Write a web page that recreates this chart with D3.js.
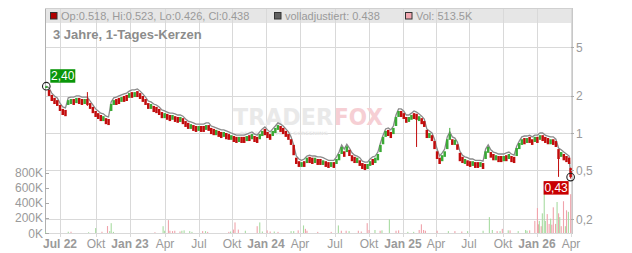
<!DOCTYPE html>
<html>
<head>
<meta charset="utf-8">
<script src="https://cdn.jsdelivr.net/npm/d3@7"></script>
<style>
    body { margin: 0; background: #fff; }
    svg { display: block; font-family: "Liberation Sans", Arial, sans-serif; }
</style>
</head>
<body>
<div id="chart"></div>
<script>

/* * * * * * * * * * * * * *
*        chart data        *
* * * * * * * * * * * * * */

// weekly candles, first week 2022-05-27, last entry = 2026-03-31
const firstWeek = new Date(2022, 4, 27);
const lastDay = new Date(2026, 2, 31);

const opens = [2.32,2.24,2.04,1.93,1.85,1.69,1.57,1.54,1.69,1.72,1.89,1.75,1.93,1.89,1.72,1.89,1.75,1.63,1.51,1.45,
    1.40,1.25,1.32,1.30,1.51,1.69,1.89,1.93,1.79,2.00,2.04,1.93,2.15,1.96,2.19,2.11,2.00,1.89,1.75,1.57,
    1.66,1.63,1.57,1.48,1.32,1.43,1.40,1.28,1.37,1.35,1.23,1.32,1.25,1.21,1.08,1.16,1.14,1.04,1.14,1.14,
    1.06,1.16,1.10,1.08,0.96,1.04,1.02,0.93,1.00,0.98,0.88,0.945,0.93,0.845,0.93,0.93,0.86,0.96,0.89,0.945,
    0.93,0.89,0.945,1.08,1.02,0.98,0.945,1.00,1.06,1.14,1.10,1.04,0.98,0.89,0.80,0.63,0.59,0.53,0.59,0.57,
    0.64,0.63,0.57,0.615,0.615,0.55,0.59,0.58,0.53,0.58,0.56,0.60,0.675,0.71,0.70,0.73,0.66,0.64,0.57,0.60,
    0.57,0.56,0.51,0.54,0.615,0.57,0.60,0.70,0.81,0.93,1.06,1.02,0.98,1.14,1.35,1.51,1.45,1.35,1.23,1.28,
    1.45,1.43,1.25,1.32,1.25,1.06,0.91,0.96,0.86,0.71,0.63,0.59,0.64,0.74,0.88,0.89,0.80,0.81,0.69,0.64,
    0.56,0.60,0.59,0.54,0.58,0.58,0.53,0.57,0.615,0.69,0.70,0.675,0.60,0.65,0.65,0.59,0.66,0.615,0.65,0.64,
    0.65,0.74,0.80,0.91,0.83,0.93,0.89,0.845,0.93,0.88,0.96,0.93,0.91,0.81,0.89,0.86,0.74,0.64,0.675,0.65,
    0.63,0.518];

const closes = [2.40,2.00,1.82,1.72,1.66,1.51,1.40,1.37,1.85,1.89,1.69,1.93,1.72,1.69,1.89,1.69,1.57,1.45,1.35,1.30,
    1.25,1.37,1.18,1.16,1.72,1.85,1.69,1.72,1.96,1.79,1.82,2.11,1.93,2.15,1.96,1.89,1.79,1.69,1.57,1.72,
    1.48,1.45,1.40,1.32,1.45,1.28,1.25,1.40,1.23,1.21,1.35,1.18,1.12,1.08,1.18,1.04,1.02,1.14,1.02,1.02,
    1.16,1.04,0.98,0.96,1.06,0.93,0.91,1.02,0.89,0.88,0.96,0.845,0.83,0.93,0.83,0.83,0.945,0.86,0.98,0.845,
    0.83,0.98,1.04,0.96,0.91,0.88,1.04,1.10,1.16,1.02,0.98,0.93,0.88,0.80,0.66,0.56,0.53,0.58,0.53,0.63,
    0.57,0.56,0.63,0.55,0.55,0.60,0.53,0.52,0.58,0.52,0.615,0.675,0.77,0.64,0.78,0.65,0.59,0.57,0.63,0.54,
    0.51,0.50,0.56,0.59,0.55,0.63,0.675,0.80,0.93,1.04,0.945,0.91,1.10,1.35,1.51,1.35,1.30,1.21,1.35,1.40,
    1.30,1.28,1.37,1.18,1.12,0.91,1.00,0.86,0.74,0.615,0.56,0.66,0.71,0.89,0.98,0.80,0.88,0.73,0.59,0.57,
    0.615,0.54,0.53,0.59,0.52,0.52,0.58,0.51,0.71,0.77,0.63,0.60,0.66,0.58,0.58,0.65,0.59,0.675,0.58,0.57,
    0.755,0.83,0.89,0.81,0.91,0.83,0.80,0.93,0.83,0.96,0.86,0.83,0.81,0.89,0.80,0.77,0.615,0.70,0.60,0.58,
    0.56,0.438];

// "volladjustiert" line
const adjusted = [2.41,2.32,2.11,2.00,1.93,1.75,1.63,1.60,1.93,1.96,1.96,2.00,2.00,1.96,1.96,1.96,1.82,1.69,1.57,1.51,
    1.45,1.43,1.37,1.35,1.79,1.93,1.96,2.00,2.04,2.08,2.11,2.19,2.24,2.24,2.28,2.19,2.08,1.96,1.82,1.79,
    1.72,1.69,1.63,1.54,1.51,1.48,1.45,1.45,1.43,1.40,1.40,1.37,1.30,1.25,1.23,1.21,1.18,1.18,1.18,1.18,
    1.21,1.21,1.14,1.12,1.10,1.08,1.06,1.06,1.04,1.02,1.00,0.98,0.96,0.96,0.96,0.96,0.98,1.00,1.02,0.98,
    0.96,1.02,1.08,1.12,1.06,1.02,1.08,1.14,1.21,1.18,1.14,1.08,1.02,0.93,0.80,0.65,0.615,0.60,0.615,0.65,
    0.66,0.65,0.65,0.64,0.64,0.63,0.615,0.60,0.60,0.60,0.64,0.70,0.80,0.74,0.81,0.755,0.69,0.66,0.65,0.63,
    0.59,0.58,0.58,0.615,0.64,0.65,0.70,0.83,0.96,1.08,1.10,1.06,1.14,1.40,1.57,1.57,1.51,1.40,1.40,1.45,
    1.51,1.48,1.43,1.37,1.30,1.08,1.04,1.00,0.89,0.74,0.65,0.69,0.74,0.93,1.02,0.93,0.91,0.845,0.71,0.66,
    0.64,0.63,0.615,0.615,0.60,0.60,0.60,0.59,0.74,0.80,0.73,0.70,0.69,0.675,0.675,0.675,0.69,0.70,0.675,0.66,
    0.78,0.86,0.93,0.945,0.945,0.96,0.93,0.96,0.96,1.00,1.00,0.96,0.945,0.93,0.93,0.89,0.755,0.73,0.70,0.675,
    0.65,0.438];

// long wicks (week index into the arrays above)
const spikeWeeks = [15, 141, 154, 196, 201];
const spikeHighs = [2.15, 1.43, 1.10, 0.675, 0.523];
const spikeLows = [1.66, 0.77, 0.98, 0.44, 0.426];

// daily volume (thousands), 1 = up day, 0 = down day
const volDates = ["2022-05-25","2022-07-22","2022-07-29","2022-09-12","2022-09-30","2022-10-17","2022-11-01","2022-11-07",
    "2022-11-11","2022-11-17","2023-03-06","2023-03-27","2023-03-31","2023-04-10","2023-04-14","2023-04-21","2023-04-27",
    "2023-05-11","2023-05-16","2023-05-22","2023-06-06","2023-06-12","2023-07-11","2023-07-19","2023-07-25","2023-09-22",
    "2023-09-27","2023-10-05","2023-10-09","2023-10-18","2023-11-06","2023-12-08","2023-12-15","2023-12-22","2024-01-04",
    "2024-01-12","2024-01-23","2024-02-02","2024-03-08","2024-03-15","2024-03-27","2024-04-10","2024-04-15","2024-04-19",
    "2024-05-17","2024-06-21","2024-07-10","2024-07-18","2024-07-31","2024-08-08","2024-09-02","2024-09-10","2024-09-26",
    "2024-10-01","2024-10-17","2024-10-31","2024-11-05","2024-11-25","2024-12-13","2024-12-20","2025-01-14","2025-01-30",
    "2025-02-14","2025-02-20","2025-02-26","2025-03-03","2025-04-04","2025-05-05","2025-05-23","2025-06-11","2025-06-27",
    "2025-08-08","2025-08-25","2025-09-02","2025-09-15","2025-09-23","2025-09-29","2025-10-15","2025-10-20","2025-11-11",
    "2025-12-01","2025-12-05","2025-12-12","2025-12-26","2026-01-02","2026-01-05","2026-01-07","2026-01-12","2026-01-15",
    "2026-01-20","2026-01-23","2026-01-28","2026-02-02","2026-02-06","2026-02-09","2026-02-13","2026-02-19","2026-02-23",
    "2026-02-27","2026-03-02","2026-03-06","2026-03-12","2026-03-17","2026-03-20","2026-03-25","2026-03-31"];
const volK = [15,17,17,10,65,17,92,25,130,15,10,90,30,170,30,25,30,20,30,35,25,15,25,25,15,15,20,45,140,45,30,90,140,20,35,
    20,20,15,25,25,35,100,55,30,15,15,100,30,30,25,30,20,130,40,40,30,35,180,30,35,15,15,40,115,40,30,30,25,25,20,25,
    30,210,40,25,25,55,35,35,25,40,30,35,160,330,115,160,90,260,670,160,250,120,190,110,340,120,410,260,210,90,420,
    90,300,280,513.5];
const volUp = [1,1,0,1,1,0,0,1,1,1,0,1,1,0,0,0,0,0,1,1,1,1,0,1,0,0,1,0,0,0,1,0,1,1,0,0,1,0,1,1,0,1,0,0,0,0,1,0,0,1,
    0,0,0,0,1,0,1,1,0,0,1,1,0,0,0,0,0,1,0,0,1,1,1,1,0,1,0,1,0,1,1,1,0,0,0,0,1,0,1,1,1,0,0,1,0,0,0,1,0,1,0,0,1,0,1,0];

// axis labels
const quarterLabels = ["Jul 22","Okt","Jan 23","Apr","Jul","Okt","Jan 24","Apr","Jul","Okt","Jan 25","Apr","Jul","Okt","Jan 26","Apr"];
const priceTicks = [5, 2, 1, 0.5, 0.2];
const volTicks = [0, 200, 400, 600, 800];


/* * * * * * * * * * * * * *
*         layout           *
* * * * * * * * * * * * * */

const width = 632, height = 253;
const plot = {left: 45, right: 572, top: 8, bottom: 233};
// measured gridline positions of the quarter starts
const quarterPx = [60, 96, 130, 165, 199, 232, 266, 300, 335, 369, 403, 436, 469, 503, 537, 571];

const red = "#c20c0c", green = "#3aa935";
const volRed = "#f0a3ab", volGreen = "#a8dca2";
const gridColor = "#d9d9d9", labelColor = "#9a9a9a";

const svg = d3.select("#chart").append("svg")
    .attr("width", width)
    .attr("height", height);

const quarterDates = d3.timeMonth.range(new Date(2022, 6, 1), new Date(2026, 3, 2), 3);

// scales
const x = d3.scaleTime().domain(quarterDates).range(quarterPx);
const y = d3.scaleLog().domain([0.2, 5]).range([219, 47]);
const yVol = d3.scaleLinear().domain([0, 800]).range([plot.bottom, 172.5]);

const comma = d3.formatLocale({decimal: ",", thousands: ".", grouping: [3], currency: ["", "€"]});

// legend background (grid shows through)
svg.append("rect")
    .attr("x", plot.left).attr("y", plot.top)
    .attr("width", plot.right - plot.left).attr("height", 15)
    .attr("fill", "#e6e6e6");

// vertical grid
svg.append("g").selectAll("line")
    .data(quarterDates)
    .join("line")
    .attr("x1", d => Math.round(x(d)) + 0.5).attr("x2", d => Math.round(x(d)) + 0.5)
    .attr("y1", plot.top).attr("y2", plot.bottom + 4)
    .attr("stroke", gridColor);

// horizontal grid at price ticks + bottom line
svg.append("g").selectAll("line")
    .data(priceTicks)
    .join("line")
    .attr("x1", plot.left).attr("x2", plot.right)
    .attr("y1", d => Math.round(y(d)) + 0.5).attr("y2", d => Math.round(y(d)) + 0.5)
    .attr("stroke", gridColor);

svg.append("line")
    .attr("x1", plot.left).attr("x2", plot.right)
    .attr("y1", plot.bottom + 0.5).attr("y2", plot.bottom + 0.5)
    .attr("stroke", gridColor);

// frame
svg.append("line")
    .attr("x1", plot.left + 0.5).attr("x2", plot.left + 0.5)
    .attr("y1", plot.top).attr("y2", plot.bottom + 1)
    .attr("stroke", "#b0b0b0");
svg.append("line")
    .attr("x1", plot.right + 0.5).attr("x2", plot.right + 0.5)
    .attr("y1", plot.top).attr("y2", plot.bottom + 1)
    .attr("stroke", "#c8c8c8");
svg.append("line")
    .attr("x1", plot.left).attr("x2", plot.right)
    .attr("y1", plot.top + 0.5).attr("y2", plot.top + 0.5)
    .attr("stroke", "#d0d0d0");

// watermark
const wm = svg.append("g");
wm.append("text")
    .attr("x", 233).attr("y", 125)
    .attr("textLength", 100).attr("lengthAdjust", "spacingAndGlyphs")
    .attr("font-family", "DejaVu Sans").attr("font-weight", "bold").attr("font-size", 23)
    .attr("fill", "#e9e9e9")
    .text("TRADER");
wm.append("text")
    .attr("x", 334).attr("y", 125)
    .attr("textLength", 49).attr("lengthAdjust", "spacingAndGlyphs")
    .attr("font-family", "DejaVu Sans").attr("font-weight", "bold").attr("font-size", 23)
    .attr("fill", "#f6cfd4")
    .text("FOX");
wm.append("text")
    .attr("x", 240).attr("y", 134.5)
    .attr("textLength", 88).attr("lengthAdjust", "spacingAndGlyphs")
    .attr("font-family", "DejaVu Sans").attr("font-weight", "bold").attr("font-size", 4.5)
    .attr("fill", "#e6e6e6")
    .text("REALTIME STOCK SCREENING");

// volume bars
const parseDay = d3.timeParse("%Y-%m-%d");
const volData = volDates.map((d, i) => ({date: parseDay(d), v: volK[i], up: volUp[i]}));

svg.append("g").selectAll("rect")
    .data(volData)
    .join("rect")
    .attr("x", d => x(d.date) - 0.5)
    .attr("width", 1.1)
    .attr("y", d => yVol(d.v))
    .attr("height", d => plot.bottom - yVol(d.v))
    .attr("fill", d => d.up ? volGreen : volRed);

// candles
const dates = d3.range(closes.length - 1).map(i => d3.timeDay.offset(firstWeek, 7 * i)).concat([lastDay]);
const candles = dates.map((d, i) => ({date: d, open: opens[i], close: closes[i], adj: adjusted[i]}));
spikeWeeks.forEach((w, k) => {
    candles[w].high = spikeHighs[k];
    candles[w].low = spikeLows[k];
});

// adjusted line behind the candles
svg.append("path")
    .datum(candles)
    .attr("fill", "none")
    .attr("stroke", "#8a8a8a")
    .attr("stroke-width", 1.3)
    .attr("d", d3.line().x(d => x(d.date)).y(d => y(d.adj)));

const cg = svg.append("g");

cg.selectAll("line")
    .data(candles.filter(d => d.high !== undefined))
    .join("line")
    .attr("x1", d => x(d.date)).attr("x2", d => x(d.date))
    .attr("y1", d => y(d.high)).attr("y2", d => y(d.low))
    .attr("stroke", d => d.close < d.open ? red : green)
    .attr("stroke-width", 1);

cg.selectAll("rect")
    .data(candles)
    .join("rect")
    .attr("x", d => x(d.date) - 1.25)
    .attr("width", 2.5)
    .attr("y", d => y(Math.max(d.open, d.close)))
    .attr("height", d => Math.max(1, Math.abs(y(d.open) - y(d.close))))
    .attr("fill", d => d.close < d.open ? red : green);

// first / last markers
const first = candles[0], last = candles[candles.length - 1];
const fmt2 = v => comma.format(".2f")(Math.floor(v * 100) / 100);

[first, last].forEach(d => {
    svg.append("circle")
        .attr("cx", x(d.date)).attr("cy", y(d.close))
        .attr("r", 3.8)
        .attr("fill", "none")
        .attr("stroke", "#222")
        .attr("stroke-width", 1.1);
});

function valueTag(px, py, txt, fill) {
    svg.append("rect")
        .attr("x", px).attr("y", py)
        .attr("width", 25).attr("height", 13.5)
        .attr("fill", fill);
    svg.append("text")
        .attr("x", px + 12.5).attr("y", py + 11)
        .attr("text-anchor", "middle")
        .attr("font-size", 12)
        .attr("fill", "#fff")
        .text(txt);
}
valueTag(x(first.date) + 4, y(first.close) - 17, fmt2(first.close), "#0a960a");
valueTag(x(last.date) - 27, y(last.close) + 4, fmt2(last.close), "#c80000");

// right price axis
const rightAxis = svg.append("g");
rightAxis.selectAll("line")
    .data(priceTicks)
    .join("line")
    .attr("x1", plot.right - 1).attr("x2", plot.right + 2)
    .attr("y1", d => Math.round(y(d)) + 0.5).attr("y2", d => Math.round(y(d)) + 0.5)
    .attr("stroke", "#aaa");
rightAxis.selectAll("text")
    .data(priceTicks)
    .join("text")
    .attr("x", plot.right + 4)
    .attr("y", d => y(d) + 4.5)
    .attr("font-size", 12)
    .attr("fill", labelColor)
    .text(d => comma.format("~g")(d));

// left volume axis
const leftAxis = svg.append("g");
leftAxis.selectAll("line")
    .data(volTicks)
    .join("line")
    .attr("x1", plot.left).attr("x2", plot.left + 4)
    .attr("y1", d => Math.round(yVol(d)) + 0.5).attr("y2", d => Math.round(yVol(d)) + 0.5)
    .attr("stroke", "#aaa");
leftAxis.selectAll("text")
    .data(volTicks)
    .join("text")
    .attr("x", plot.left - 2)
    .attr("y", d => yVol(d) + 4.5)
    .attr("text-anchor", "end")
    .attr("font-size", 12)
    .attr("fill", labelColor)
    .text(d => d + "K");

// bottom time axis
svg.append("g").selectAll("text")
    .data(quarterDates)
    .join("text")
    .attr("x", d => x(d))
    .attr("y", 247.5)
    .attr("text-anchor", "middle")
    .attr("font-size", 12)
    .attr("font-weight", (d, i) => quarterLabels[i].includes(" ") ? "bold" : "normal")
    .attr("fill", labelColor)
    .text((d, i) => quarterLabels[i]);

// legend
const legend = svg.append("g").attr("font-size", 11).attr("fill", labelColor);
function legendItem(px, color, txt) {
    legend.append("rect")
        .attr("x", px + 0.5).attr("y", 12.5)
        .attr("width", 6.5).attr("height", 6.5)
        .attr("fill", color)
        .attr("stroke", "#333")
        .attr("stroke-width", 1);
    legend.append("text")
        .attr("x", px + 11).attr("y", 20)
        .text(txt);
}
legendItem(50, "#b00000",
    "Op:" + last.open + ", Hi:" + last.high + ", Lo:" + last.low + ", Cl:" + last.close);
legendItem(274, "#606060", "volladjustiert: " + last.adj);
legendItem(405, "#f2a7b0", "Vol: " + volK[volK.length - 1] + "K");

// subtitle
svg.append("text")
    .attr("x", 53).attr("y", 38.5)
    .attr("font-size", 13)
    .attr("font-weight", "bold")
    .attr("fill", "#8c8c8c")
    .text("3 Jahre, 1-Tages-Kerzen");

</script>
</body>
</html>
